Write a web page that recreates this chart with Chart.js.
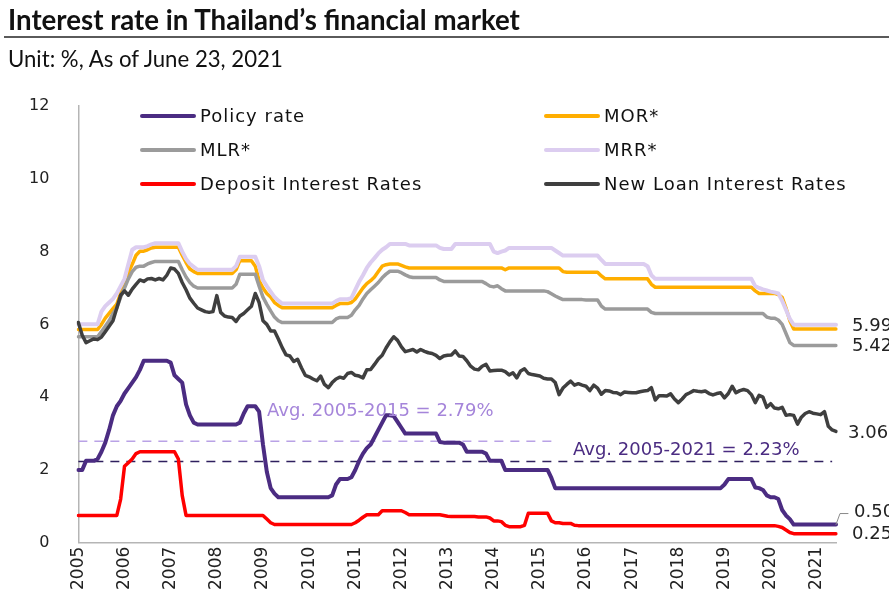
<!DOCTYPE html>
<html><head><meta charset="utf-8">
<script src="https://cdn.jsdelivr.net/npm/chart.js@4"></script>
<style>
html,body{margin:0;padding:0;background:#fff;}
#wrap{position:relative;width:889px;height:594px;overflow:hidden;background:#fff;}
canvas{position:absolute;left:0;top:0;}
.t{position:absolute;left:8px;white-space:nowrap;color:#111;line-height:1;}
#title{top:6px;font-family:Lato;font-weight:700;font-size:22px;}
#sub{top:48px;font-family:Lato;font-weight:400;font-size:19px;}
#rule{position:absolute;left:4px;width:885px;top:36px;height:2px;background:#5a5a5a;}
</style></head>
<body><div id="wrap">
<canvas id="c" width="889" height="594"></canvas>
<div id="title" class="t">Interest rate in Thailand’s financial market</div>
<div id="rule"></div>
<div id="sub" class="t">Unit: %, As of June 23, 2021</div>
</div>
<script>
// ---- categories / tick labels ----
const years = [2005,2006,2007,2008,2009,2010,2011,2012,2013,2014,2015,2016,2017,2018,2019,2020,2021];
const lastMonth2021 = 6;
const months = [];
for (const yr of years) { for (let m = 1; m <= 12; m++) { if (yr === 2021 && m > lastMonth2021) break; months.push(yr + '-' + String(m).padStart(2,'0')); } }

// ---- series values (monthly, Jan 2005 - Jun 2021), % ----
const policyRate = [
2.0,2.0,2.25,2.25,2.25,2.3,2.5,2.75,3.1,3.5,3.75,3.9,
4.1,4.25,4.4,4.55,4.75,5.0,5.0,5.0,5.0,5.0,5.0,5.0,
4.95,4.6,4.5,4.4,3.8,3.5,3.3,3.25,3.25,3.25,3.25,3.25,
3.25,3.25,3.25,3.25,3.25,3.25,3.3,3.55,3.75,3.75,3.75,3.6,
2.7,1.95,1.5,1.35,1.25,1.25,1.25,1.25,1.25,1.25,1.25,1.25,
1.25,1.25,1.25,1.25,1.25,1.25,1.3,1.6,1.75,1.75,1.75,1.8,
2.0,2.25,2.45,2.6,2.7,2.9,3.1,3.3,3.5,3.5,3.48,3.32,
3.16,3.0,3.0,3.0,3.0,3.0,3.0,3.0,3.0,3.0,2.77,2.75,
2.75,2.75,2.75,2.75,2.7,2.5,2.5,2.5,2.5,2.5,2.45,2.25,
2.25,2.25,2.25,2.0,2.0,2.0,2.0,2.0,2.0,2.0,2.0,2.0,
2.0,2.0,2.0,1.78,1.5,1.5,1.5,1.5,1.5,1.5,1.5,1.5,
1.5,1.5,1.5,1.5,1.5,1.5,1.5,1.5,1.5,1.5,1.5,1.5,
1.5,1.5,1.5,1.5,1.5,1.5,1.5,1.5,1.5,1.5,1.5,1.5,
1.5,1.5,1.5,1.5,1.5,1.5,1.5,1.5,1.5,1.5,1.5,1.5,
1.6,1.75,1.75,1.75,1.75,1.75,1.75,1.75,1.52,1.5,1.45,1.3,
1.25,1.25,1.2,0.9,0.75,0.65,0.5,0.5,0.5,0.5,0.5,0.5,
0.5,0.5,0.5,0.5,0.5,0.5];

const mor = [
5.86,5.86,5.86,5.86,5.86,5.86,6.0,6.17,6.3,6.43,6.56,6.85,
7.15,7.42,7.65,7.9,8.01,8.01,8.05,8.1,8.12,8.12,8.12,8.12,
8.12,8.12,8.12,7.9,7.7,7.52,7.45,7.4,7.4,7.4,7.4,7.4,
7.4,7.4,7.4,7.4,7.4,7.5,7.75,7.75,7.75,7.75,7.6,7.2,
7.0,6.85,6.75,6.6,6.52,6.46,6.46,6.46,6.46,6.46,6.46,6.46,
6.46,6.46,6.46,6.46,6.46,6.46,6.46,6.52,6.57,6.57,6.57,6.6,
6.7,6.85,7.0,7.12,7.2,7.3,7.45,7.6,7.64,7.66,7.66,7.66,
7.62,7.58,7.55,7.55,7.55,7.55,7.55,7.55,7.55,7.55,7.55,7.55,
7.55,7.55,7.55,7.55,7.55,7.55,7.55,7.55,7.55,7.55,7.55,7.55,
7.55,7.55,7.55,7.5,7.55,7.55,7.55,7.55,7.55,7.55,7.55,7.55,
7.55,7.55,7.55,7.55,7.55,7.55,7.45,7.43,7.43,7.43,7.43,7.43,
7.43,7.43,7.43,7.43,7.33,7.25,7.25,7.25,7.25,7.25,7.25,7.25,
7.25,7.25,7.25,7.25,7.25,7.1,7.02,7.02,7.02,7.02,7.02,7.02,
7.02,7.02,7.02,7.02,7.02,7.02,7.02,7.02,7.02,7.02,7.02,7.02,
7.02,7.02,7.02,7.02,7.02,7.02,7.02,7.02,6.92,6.85,6.85,6.85,
6.85,6.85,6.82,6.74,6.45,6.1,5.87,5.87,5.87,5.87,5.87,5.87,
5.87,5.87,5.87,5.87,5.87,5.87];

const mlr = [
5.66,5.66,5.66,5.66,5.66,5.66,5.8,5.95,6.1,6.3,6.45,6.75,
7.0,7.25,7.45,7.57,7.6,7.6,7.66,7.7,7.73,7.73,7.73,7.73,
7.73,7.73,7.73,7.5,7.3,7.15,7.05,7.0,7.0,7.0,7.0,7.0,
7.0,7.0,7.0,7.0,7.0,7.1,7.38,7.38,7.38,7.38,7.38,7.05,
6.75,6.55,6.37,6.2,6.1,6.05,6.05,6.05,6.05,6.05,6.05,6.05,
6.05,6.05,6.05,6.05,6.05,6.05,6.05,6.15,6.19,6.19,6.19,6.25,
6.4,6.52,6.7,6.85,6.95,7.05,7.15,7.28,7.38,7.46,7.46,7.46,
7.42,7.36,7.31,7.29,7.29,7.29,7.29,7.29,7.29,7.29,7.22,7.18,
7.18,7.18,7.18,7.18,7.18,7.18,7.18,7.18,7.18,7.18,7.12,7.05,
7.03,7.06,6.98,6.92,6.92,6.92,6.92,6.92,6.92,6.92,6.92,6.92,
6.92,6.92,6.9,6.84,6.78,6.73,6.68,6.68,6.68,6.68,6.68,6.68,
6.67,6.67,6.67,6.67,6.5,6.42,6.42,6.42,6.42,6.42,6.42,6.42,
6.42,6.42,6.42,6.42,6.42,6.33,6.3,6.3,6.3,6.3,6.3,6.3,
6.3,6.3,6.3,6.3,6.3,6.3,6.3,6.3,6.3,6.3,6.3,6.3,
6.3,6.3,6.3,6.3,6.3,6.3,6.3,6.3,6.3,6.3,6.3,6.2,
6.17,6.17,6.12,6.0,5.75,5.5,5.42,5.42,5.42,5.42,5.42,5.42,
5.42,5.42,5.42,5.42,5.42,5.42];

const mrr = [
6.0,6.0,6.0,6.0,6.0,6.0,6.35,6.5,6.6,6.7,6.85,7.05,
7.25,7.65,8.05,8.12,8.12,8.12,8.15,8.2,8.23,8.23,8.23,8.23,
8.23,8.23,8.23,8.0,7.8,7.66,7.58,7.5,7.5,7.5,7.5,7.5,
7.5,7.5,7.5,7.5,7.5,7.6,7.86,7.86,7.86,7.86,7.86,7.6,
7.22,7.05,6.9,6.75,6.65,6.57,6.57,6.57,6.57,6.57,6.57,6.57,
6.57,6.57,6.57,6.57,6.57,6.57,6.57,6.64,6.69,6.69,6.69,6.72,
6.95,7.17,7.35,7.55,7.7,7.82,7.95,8.05,8.12,8.21,8.21,8.21,
8.21,8.21,8.17,8.17,8.17,8.17,8.17,8.17,8.17,8.17,8.1,8.07,
8.07,8.07,8.21,8.21,8.21,8.21,8.21,8.21,8.21,8.21,8.21,8.21,
8.0,7.96,8.0,8.03,8.1,8.1,8.1,8.1,8.1,8.1,8.1,8.1,
8.1,8.1,8.1,8.1,8.03,7.96,7.89,7.89,7.89,7.89,7.89,7.89,
7.89,7.89,7.89,7.89,7.77,7.66,7.66,7.66,7.66,7.66,7.66,7.66,
7.66,7.66,7.66,7.66,7.6,7.35,7.25,7.25,7.25,7.25,7.25,7.25,
7.25,7.25,7.25,7.25,7.25,7.25,7.25,7.25,7.25,7.25,7.25,7.25,
7.25,7.25,7.25,7.25,7.25,7.25,7.25,7.25,7.05,7.0,6.96,6.93,
6.9,6.88,6.85,6.65,6.4,6.15,5.99,5.99,5.99,5.99,5.99,5.99,
5.99,5.99,5.99,5.99,5.99,5.99];

const depositRate = [
0.75,0.75,0.75,0.75,0.75,0.75,0.75,0.75,0.75,0.75,0.75,1.2,
2.1,2.2,2.3,2.45,2.5,2.5,2.5,2.5,2.5,2.5,2.5,2.5,
2.5,2.5,2.3,1.3,0.75,0.75,0.75,0.75,0.75,0.75,0.75,0.75,
0.75,0.75,0.75,0.75,0.75,0.75,0.75,0.75,0.75,0.75,0.75,0.75,
0.75,0.65,0.55,0.5,0.5,0.5,0.5,0.5,0.5,0.5,0.5,0.5,
0.5,0.5,0.5,0.5,0.5,0.5,0.5,0.5,0.5,0.5,0.5,0.5,
0.55,0.62,0.7,0.77,0.77,0.77,0.77,0.88,0.88,0.88,0.88,0.88,
0.88,0.83,0.77,0.77,0.77,0.77,0.77,0.77,0.77,0.77,0.77,0.75,
0.73,0.72,0.72,0.72,0.72,0.72,0.72,0.72,0.71,0.71,0.71,0.68,
0.6,0.6,0.58,0.48,0.44,0.44,0.44,0.44,0.48,0.81,0.81,0.81,
0.81,0.81,0.81,0.6,0.55,0.55,0.53,0.53,0.53,0.48,0.47,0.47,
0.47,0.47,0.47,0.47,0.47,0.47,0.47,0.47,0.47,0.47,0.47,0.47,
0.47,0.47,0.47,0.47,0.47,0.47,0.47,0.47,0.47,0.47,0.47,0.47,
0.47,0.47,0.47,0.47,0.47,0.47,0.47,0.47,0.47,0.47,0.47,0.47,
0.47,0.47,0.47,0.47,0.47,0.47,0.47,0.47,0.47,0.47,0.47,0.47,
0.47,0.47,0.45,0.42,0.35,0.28,0.25,0.25,0.25,0.25,0.25,0.25,
0.25,0.25,0.25,0.25,0.25,0.25];

const newLoanRate = [
6.05,5.7,5.5,5.55,5.6,5.58,5.65,5.8,5.95,6.1,6.45,6.8,
6.92,6.8,6.97,7.1,7.22,7.18,7.25,7.26,7.22,7.26,7.22,7.35,
7.55,7.52,7.4,7.15,6.95,6.72,6.58,6.45,6.4,6.35,6.33,6.35,
6.79,6.33,6.23,6.2,6.19,6.08,6.23,6.3,6.4,6.5,6.85,6.6,
6.1,6.0,5.82,5.82,5.6,5.36,5.16,5.13,4.98,5.04,4.81,4.6,
4.56,4.5,4.45,4.58,4.35,4.26,4.4,4.5,4.55,4.52,4.65,4.68,
4.6,4.58,4.53,4.75,4.76,4.9,5.05,5.15,5.35,5.52,5.66,5.56,
5.38,5.25,5.28,5.31,5.24,5.31,5.26,5.22,5.2,5.15,5.06,5.13,
5.15,5.16,5.27,5.13,5.12,5.0,4.85,4.77,4.75,4.85,4.9,4.72,
4.73,4.74,4.74,4.7,4.61,4.67,4.53,4.72,4.78,4.65,4.62,4.6,
4.58,4.52,4.5,4.5,4.4,4.07,4.25,4.35,4.44,4.33,4.37,4.33,
4.3,4.18,4.33,4.25,4.08,4.18,4.17,4.13,4.12,4.07,4.14,4.13,
4.12,4.12,4.15,4.17,4.18,4.26,3.92,4.04,4.04,4.03,4.09,3.95,
3.85,3.95,4.07,4.12,4.18,4.16,4.15,4.17,4.1,4.06,4.1,4.12,
3.98,4.1,4.3,4.12,4.18,4.21,4.18,4.07,3.85,4.05,4.0,3.72,
3.82,3.7,3.68,3.72,3.5,3.52,3.5,3.26,3.45,3.55,3.6,3.56,
3.54,3.52,3.6,3.2,3.1,3.06];

// averages of the policy rate (from the chart's annotations)
const avg2005_2015 = 2.79, avg2005_2015_end = '2015-05';
const avg2005_2021 = 2.23, avg2005_2021_end = '2021-05';
const yTicks = [0,2,4,6,8,10,12];

const COLORS = {policy:'#4B2C82', mor:'#FFAE00', mlr:'#9B9B9B', mrr:'#DCCDF0', dep:'#FF0000', loan:'#3F3F3F',
  avg1:'#B9A2E6', avg2:'#2E1F5E', avg1Text:'#A585DA', avg2Text:'#4B2C82'};

const FONT = '"DejaVu Sans"';
Chart.defaults.font.family = FONT;
Chart.defaults.color = '#222';

// fit title/subtitle to the reference widths
function fitWidth(id, target){
  const el = document.getElementById(id);
  const w = el.getBoundingClientRect().width;
  const fs = parseFloat(getComputedStyle(el).fontSize);
  el.style.fontSize = (fs * target / w).toFixed(2) + 'px';
}
fitWidth('title', 512);
fitWidth('sub', 275);

const ds = (label, data, color, width) => ({label, data, borderColor:color, backgroundColor:color, borderWidth:width,
  pointRadius:0, tension:0, fill:false, borderJoinStyle:'round', borderCapStyle:'round'});

const datasets = [
  ds('Policy rate', policyRate, COLORS.policy, 4),
  ds('New Loan Interest Rates', newLoanRate, COLORS.loan, 3.5),
  ds('Deposit Interest Rates', depositRate, COLORS.dep, 3.5),
  ds('MLR*', mlr, COLORS.mlr, 3.5),
  ds('MRR*', mrr, COLORS.mrr, 4),
  ds('MOR*', mor, COLORS.mor, 3.5),
  Object.assign(ds('avg1', [{x:months[0], y:avg2005_2015},{x:avg2005_2015_end, y:avg2005_2015}], COLORS.avg1, 1.5), {borderDash:[9,7], borderCapStyle:'butt'}),
  Object.assign(ds('avg2', [{x:months[0], y:avg2005_2021},{x:avg2005_2021_end, y:avg2005_2021}], COLORS.avg2, 1.5), {borderDash:[9,7], borderCapStyle:'butt'})
];

const legendRows = [
  [['Policy rate', COLORS.policy], ['MOR*', COLORS.mor]],
  [['MLR*', COLORS.mlr], ['MRR*', COLORS.mrr]],
  [['Deposit Interest Rates', COLORS.dep], ['New Loan Interest Rates', COLORS.loan]]
];

const overlay = {
  id:'overlay',
  afterDraw(chart){
    const {ctx, scales:{x, y}} = chart;
    ctx.save();
    // legend
    const rowY = [116, 150, 184];
    const colX = [140, 544];
    ctx.font = '18px ' + FONT;
    ctx.textBaseline = 'middle';
    if ('letterSpacing' in ctx) ctx.letterSpacing = '1px';
    legendRows.forEach((row, r) => row.forEach(([label, color], c) => {
      ctx.strokeStyle = color; ctx.lineWidth = 4; ctx.lineCap = 'round';
      ctx.beginPath(); ctx.moveTo(colX[c] + 2, rowY[r]); ctx.lineTo(colX[c] + 54, rowY[r]); ctx.stroke();
      ctx.fillStyle = '#111'; ctx.textAlign = 'left';
      ctx.fillText(label, colX[c] + 60, rowY[r] + 1);
    }));
    if ('letterSpacing' in ctx) ctx.letterSpacing = '0px';
    // average labels
    ctx.font = '18px ' + FONT;
    ctx.fillStyle = COLORS.avg1Text;
    ctx.fillText('Avg. 2005-2015 = ' + avg2005_2015.toFixed(2) + '%', 267, y.getPixelForValue(avg2005_2015) - 30);
    ctx.fillStyle = COLORS.avg2Text;
    ctx.fillText('Avg. 2005-2021 = ' + avg2005_2021.toFixed(2) + '%', 573, y.getPixelForValue(avg2005_2021) - 11);
    // end-value labels
    const last = a => a[a.length - 1];
    const xe = x.getPixelForValue(months.length - 1);
    ctx.fillStyle = '#222';
    ctx.fillText(last(mrr).toFixed(2), 852, y.getPixelForValue(last(mrr)) + 2);
    ctx.fillText(last(mlr).toFixed(2), 852, y.getPixelForValue(last(mlr)) + 1);
    ctx.fillText(last(newLoanRate).toFixed(2), 848, y.getPixelForValue(last(newLoanRate)) + 2);
    const py = y.getPixelForValue(last(policyRate));
    ctx.fillText(last(policyRate).toFixed(2), 854, py - 12);
    ctx.fillText(last(depositRate).toFixed(2), 852, y.getPixelForValue(last(depositRate)) + 1);
    ctx.strokeStyle = '#8a8a8a'; ctx.lineWidth = 1;
    ctx.beginPath(); ctx.moveTo(xe, py); ctx.lineTo(xe + 4, py - 11); ctx.lineTo(xe + 12, py - 11); ctx.stroke();
    ctx.restore();
  }
};

new Chart(document.getElementById('c'), {
  type:'line',
  data:{labels:months, datasets},
  options:{
    responsive:false, animation:false, devicePixelRatio:1,
    layout:{padding:{top:106, right:53, bottom:0, left:0}},
    plugins:{legend:{display:false}, tooltip:{enabled:false}},
    scales:{
      x:{type:'category', offset:false,
        grid:{display:false, drawTicks:false},
        border:{display:true, color:'#b5b5b5', width:1.5},
        ticks:{autoSkip:false, maxRotation:90, minRotation:90, padding:4, font:{size:17}, color:'#222',
          callback:function(v, i){ const lab = months[i]; return lab.endsWith('-01') ? lab.slice(0,4) : null; }}
      },
      y:{min:0, max:12,
        grid:{display:false, drawTicks:false},
        border:{display:true, color:'#b5b5b5', width:1.5},
        afterBuildTicks:(s)=>{ s.ticks = yTicks.map(v=>({value:v})); },
        ticks:{padding:29, font:{size:16}, color:'#222'}
      }
    }
  },
  plugins:[overlay]
});
</script>
</body></html>
